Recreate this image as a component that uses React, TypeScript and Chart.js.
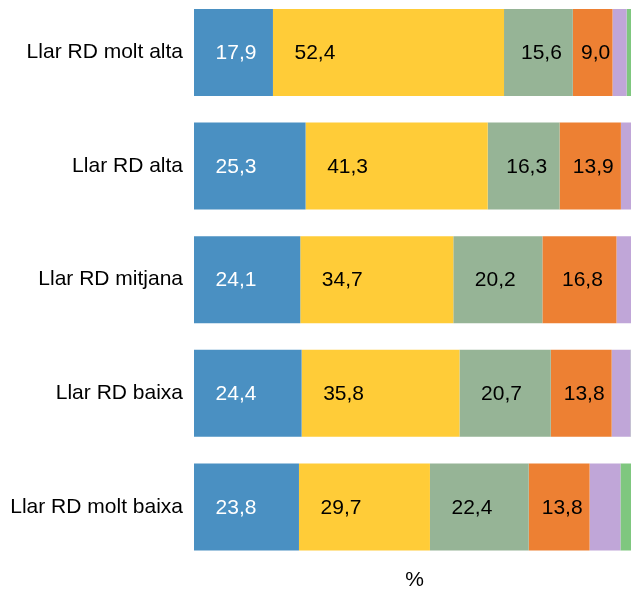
import React, { useEffect, useRef } from "react";
import { Chart, registerables } from "chart.js";

Chart.register(...registerables);

const categories = [
  "Llar RD molt alta",
  "Llar RD alta",
  "Llar RD mitjana",
  "Llar RD baixa",
  "Llar RD molt baixa",
];
const seriesNames = ["Sèrie 1", "Sèrie 2", "Sèrie 3", "Sèrie 4", "Sèrie 5", "Sèrie 6"];
const serie1 = [17.9, 25.3, 24.1, 24.4, 23.8];
const serie2 = [52.4, 41.3, 34.7, 35.8, 29.7];
const serie3 = [15.6, 16.3, 20.2, 20.7, 22.4];
const serie4 = [9.0, 13.9, 16.8, 13.8, 13.8];
const serie5 = [3.2, 2.7, 3.6, 4.3, 7.0];
const serie6 = [1.9, 0.5, 0.6, 1.0, 3.3];
const colors = ["#4a90c2", "#ffcc38", "#96b496", "#ed8033", "#c0a6d8", "#7fc77f"];
const labelledSeries = 4;

const FONT = '"Liberation Sans", Arial, sans-serif';
const fmt = (v: number) => v.toFixed(1).replace(".", ",");

const segLabels = {
  id: "segLabels",
  afterDatasetsDraw(chart: any) {
    const ctx = chart.ctx;
    ctx.save();
    ctx.font = `21px ${FONT}`;
    ctx.textAlign = "center";
    ctx.textBaseline = "middle";
    chart.data.datasets.forEach((ds: any, di: number) => {
      if (di >= labelledSeries) return;
      const meta = chart.getDatasetMeta(di);
      meta.data.forEach((bar: any, i: number) => {
        const p = bar.getProps(["x", "base", "y"], true);
        const left = Math.min(p.x, p.base);
        const w = Math.abs(p.x - p.base);
        const cx = left + Math.min(42, w / 2 + 3);
        ctx.fillStyle = di === 0 ? "#ffffff" : "#000000";
        ctx.fillText(fmt(ds.data[i]), cx, p.y + 1);
      });
    });
    ctx.restore();
  },
};

export default function App() {
  const ref = useRef<HTMLCanvasElement>(null);
  useEffect(() => {
    if (!ref.current) return;
    const all = [serie1, serie2, serie3, serie4, serie5, serie6];
    const chart = new Chart(ref.current, {
      type: "bar",
      data: {
        labels: categories,
        datasets: all.map((d, i) => ({
          label: seriesNames[i],
          data: d,
          backgroundColor: colors[i],
          borderWidth: 0,
          barPercentage: 0.766,
          categoryPercentage: 1,
        })),
      },
      options: {
        indexAxis: "y",
        animation: false,
        responsive: false,
        devicePixelRatio: 1,
        layout: { padding: { top: 15.75, right: 0, bottom: 0, left: 0 } },
        plugins: { legend: { display: false }, tooltip: { enabled: false } },
        scales: {
          x: {
            stacked: true,
            min: 0,
            max: 100,
            grid: { display: false, drawTicks: false },
            border: { display: false },
            ticks: { display: false },
            title: {
              display: true,
              text: "%",
              color: "#000",
              font: { family: FONT, size: 21 },
              padding: { top: 4, bottom: 4 },
            },
          },
          y: {
            stacked: true,
            grid: { display: false, drawTicks: false },
            border: { display: false },
            ticks: {
              color: "#000",
              padding: 11,
              font: { family: FONT, size: 21 },
            },
            afterFit: (scale: any) => {
              scale.width = 194;
            },
          },
        },
      },
      plugins: [segLabels],
    });
    return () => chart.destroy();
  }, []);
  return (
    <div
      style={{
        position: "fixed",
        left: 0,
        top: 0,
        width: 631,
        height: 589,
        overflow: "hidden",
        background: "#fff",
      }}
    >
      <canvas
        ref={ref}
        width={635}
        height={625}
        style={{ position: "absolute", left: 0, top: -28, width: 635, height: 625 }}
      />
    </div>
  );
}
